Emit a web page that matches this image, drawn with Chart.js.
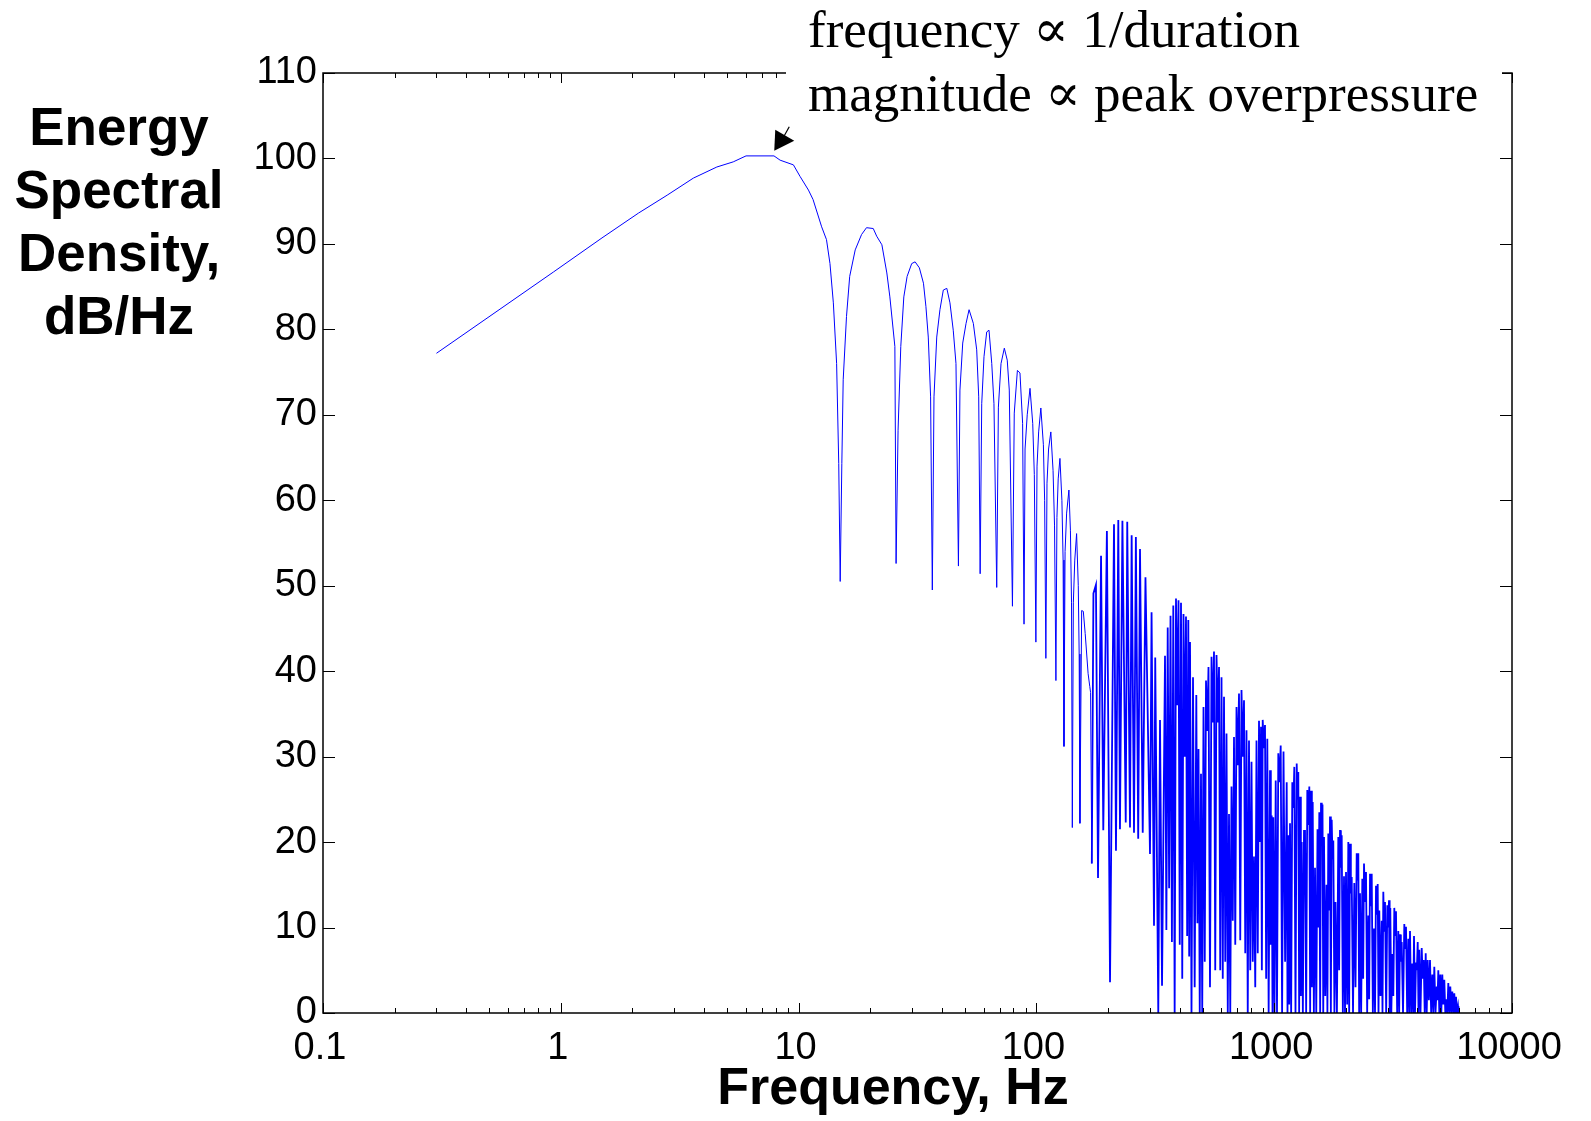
<!DOCTYPE html>
<html>
<head>
<meta charset="utf-8">
<script src="https://cdn.jsdelivr.net/npm/chart.js@4.4.1/dist/chart.umd.min.js"></script>
<style>
html,body{margin:0;padding:0;background:#fff;}
canvas{display:block;}
</style>
</head>
<body>
<canvas id="c" width="1591" height="1121"></canvas>
<script>
// ---------- text & ticks ----------
const xTickValues = [0.1, 1, 10, 100, 1000, 10000];
const xTickLabels = ['0.1', '1', '10', '100', '1000', '10000'];
const yTickValues = [0, 10, 20, 30, 40, 50, 60, 70, 80, 90, 100, 110];
const yTitleLines = ['Energy', 'Spectral', 'Density,', 'dB/Hz'];
const xTitle = 'Frequency, Hz';
const noteLines = ['frequency \u221d 1/duration', 'magnitude \u221d peak overpressure'];
const notePeak = { x: 7.9, y: 100.9 };

// ---------- data (frequency Hz, level dB/Hz) ----------
// main lobe
const mainF  = [0.3, 0.93, 1.49, 2.12, 2.8, 3.61, 4.53, 5.31, 6.01, 7.88, 8.36, 9.51, 10.14, 11.0, 11.5, 12.5, 13.1, 13.55, 14.0, 14.45, 14.75, 14.96];
const mainDb = [77.2, 86.7, 90.7, 93.6, 95.7, 97.7, 99.0, 99.6, 100.3, 100.3, 99.8, 99.25, 97.9, 96.3, 95.2, 92.0, 90.5, 87.7, 83.1, 76.0, 64.3, 50.5];

// side lobes 2-8
const lowLobes = [
  [15.2,64.3],[15.4,74.1],[15.9,81.5],[16.4,86.2],[17.3,89.3],[18.4,91.1],[19.3,91.9],[20.6,91.8],[21.3,90.9],[22.4,89.9],[23.5,86.6],[24.2,83.8],[25.4,78.0],[25.7,52.6],
  [26.2,68.2],[26.9,78.0],[27.7,83.8],[28.6,86.2],[29.9,87.7],[30.9,87.9],[32.2,87.2],[33.5,85.4],[34.3,82.7],[35.1,79.1],[35.9,72.1],[36.5,49.5],
  [37.1,72.1],[38.1,79.1],[39.3,82.3],[40.6,84.6],[42.0,84.8],[43.3,83.1],[44.7,79.9],[45.9,76.0],[47.0,52.3],
  [47.7,72.9],[49.0,78.4],[50.6,80.7],[52.1,82.3],[54.3,80.7],[56.1,77.6],[57.2,72.1],[58.0,51.4],
  [58.9,71.3],[60.2,76.8],[61.8,79.7],[63.2,79.9],[64.9,76.0],[66.3,71.3],[68.1,49.8],
  [69.2,70.9],[71.0,76.0],[73.3,77.8],[75.4,76.4],[76.9,72.9],[79.3,47.6],
  [80.7,70.2],[83.2,75.2],[85.3,74.9],[87.5,69.0],[88.7,45.5]
];

// side lobes 9-14 and shoulder
const midLobes = [
  [89.6,66.0],[91.5,70.0],[94.0,73.1],[96.5,69.0],[98.0,63.0],[99.5,43.4],
  [100.6,64.0],[102.2,68.0],[104.4,70.8],[107.0,66.5],[108.3,60.0],[109.6,41.5],
  [110.8,62.0],[112.5,66.0],[115.0,68.0],[117.5,63.5],[119.2,57.0],[120.8,38.9],
  [122.0,58.0],[123.5,62.5],[125.6,64.9],[128.0,60.0],[129.5,53.0],[130.6,31.2],
  [132.0,54.0],[134.0,58.5],[137.0,61.2],[139.0,56.5],[140.5,48.0],[141.6,21.7],
  [143.0,48.0],[145.0,53.0],[147.6,56.1],[150.0,50.0],[151.3,42.0],[152.4,22.2],
  [155.0,47.1],[157.5,47.0],[160.4,44.4],[165.0,39.7],[167.7,38.2],[169.0,37.5],[171.0,17.5]
];

// dense band 170-340 Hz
const bandA = [
  [173.7,49.1],[178.0,50.1],[181.6,15.8],[187.0,53.5],[191.1,21.4],[197.9,56.4],[204.0,3.6],
  [212.0,57.2],[216.1,19.0],[221.0,57.7],[224.6,21.5],[230.0,57.6],[237.5,22.3],[241.0,57.5],
  [247.5,21.7],[251.5,55.9],[257.3,21.1],[262.0,55.7],[268.0,20.4],[272.7,54.3],[280.0,21.1],
  [287.5,51.0],[300.4,18.6],[305.0,46.9],[312.3,10.2],[316.0,41.6],[325.5,0],[331.0,34.3],[337.5,3.2]
];

// dense band 340-1000 Hz
const bandB = [
  [347.4,41.8],[352,9.7],[356.6,45.1],[361.5,14.6],[366.4,46.5],[371.4,8.3],[376.4,47.7],[381.4,0],
  [386.4,48.5],[391,36],[395.9,48.3],[400.7,8],[405.6,48.0],[410.5,4],[415.5,46.7],[420.6,30],
  [425.7,46.4],[430.5,9],[435.3,46.0],[439,6.6],[442.6,43.4],[449,0],[455.6,39.3],[463,3],
  [470.4,37.2],[475.4,10.5],[480.5,30.9],[486.3,0],[492.2,28.0],[498.2,0],[504.3,35.8],[510.5,6],
  [516.7,38.9],[523,33],[529.3,40.5],[537,3],[545.0,41.7],[551.6,34],[558.3,42.3],[565,5],
  [572.0,41.9],[579,34],[586.1,40.5],[593,5],[600.4,39.3],[607.7,4],[615.1,37.0],[622.6,6],
  [630.2,32.7],[637.9,0],[645.6,23.3],[653.5,0],[661.4,26.5],[669.5,10.8],[677.6,32.3],[685.9,8],
  [694.2,35.8],[702.7,29],[711.2,37.4],[719.9,8.5],[728.6,37.8],[737.5,30],[746.5,36.6],[755.6,7],
  [764.7,33.1],[774.1,0],[783.5,31.9],[793.1,5],[802.7,29.4],[812.5,6],[822.3,18.3],[832.4,3],
  [842.5,31.9],[852.8,7],[863.2,34.2],[871.6,20],[880.1,33.5],[887.4,5],[894.7,34.3],[904.7,31],
  [914.8,33.7],[925,4],[935.4,32.1],[947.7,0],[960.2,28.4],[968,8],[976.1,23.1],[983.7,0],
  [991.4,22.9],[1003,0]
];

// dense band 1-2.3 kHz
const bandC = [
  [1014.7,27.2],[1027.5,0],[1040.5,30.4],[1052.7,27],[1065.0,31.3],[1079.5,0],[1094.3,30.6],[1111.4,6],
  [1128.7,27.0],[1137.5,0],[1146.4,20.8],[1155.9,1],[1165.4,22.2],[1178.4,0],[1191.6,27.0],[1203.2,24],
  [1214.9,28.8],[1229.1,0],[1243.5,29.2],[1253.2,25],[1262.9,28.2],[1273.4,0],[1283.9,25.3],[1294.5,2],
  [1305.2,20.0],[1319.8,0],[1334.6,21.4],[1341,15],[1347.6,21.4],[1362.7,0],[1377.9,26.1],[1391.3,22],
  [1404.9,26.5],[1416.5,0],[1428.2,26.0],[1440,3],[1451.9,24.7],[1468.2,0],[1484.6,17.0],[1502.7,0],
  [1521.0,21.5],[1534.3,10],[1547.7,23.5],[1560.5,0],[1573.4,24.6],[1584.9,21],[1596.4,24.4],[1608,0],
  [1619.7,20.6],[1639.5,2],[1659.4,15.0],[1674,0],[1688.6,21.0],[1702.6,12],[1716.6,23.0],[1730.8,0],
  [1745.1,22.6],[1758.7,18],[1772.3,20.2],[1791.4,0],[1810.5,13.0],[1835.4,0],[1860.3,20.6],[1875.7,5],
  [1891.2,21.4],[1906.9,17],[1922.6,20.8],[1944.2,0],[1965.9,16.0],[1985.1,0],[2004.3,16.5],[2026.9,1],
  [2049.5,20.0],[2066.5,0],[2083.5,19.8],[2100.8,14],[2118.1,15.9],[2145,0],[2172.0,15.2],[2197.5,3],
  [2223.1,18.7],[2240.4,15.5],[2257.8,18.7],[2276.5,0]
];

// dense band 2.3-6 kHz
const bandD = [
  [2295.3,14.0],[2321,0],[2347.0,15.7],[2366.4,4],[2385.9,17.5],[2409.2,13],[2432.6,16.5],[2460,0],
  [2487.4,11.4],[2508,1.6],[2528.7,16.3],[2549.7,12.5],[2570.7,16.3],[2599.6,0],[2628.5,9.9],[2654.2,0],
  [2679.9,14.9],[2702,11.5],[2724.4,15.1],[2745.6,0],[2766.9,12.0],[2799.4,2],[2832.0,10.8],[2854,0],
  [2876.3,14.2],[2900,9.5],[2924.0,13.0],[2957,0],[2989.8,12.6],[3014.6,10],[3039.4,13.2],[3058.6,0],
  [3077.9,12.3],[3108,0],[3138.1,6.9],[3168.7,2],[3199.4,12.3],[3226,9],[3252.6,11.9],[3289,0],
  [3325.9,9.6],[3353.5,0],[3381.1,9.2],[3409,6],[3437.2,8.3],[3481,0],[3524.8,10.4],[3554,7.5],
  [3583.3,10.1],[3623.6,0],[3664.0,8.7],[3694.4,0],[3724.8,9.6],[3766.7,0],[3808.7,5.8],[3840,0],
  [3871.8,9.0],[3909.7,0],[3947.6,5.9],[3980.4,5],[4013.2,8.3],[4044.4,0],[4075.7,7.4],[4123.6,0],
  [4171.6,7.6],[4212.4,4],[4253.2,6.2],[4294.8,0],[4336.4,7.0],[4378.8,0],[4421.2,6.2],[4471,1.5],
  [4520.7,6.2],[4571.6,0],[4622.5,4.5],[4667.6,0],[4712.8,5.4],[4768.3,0],[4823.8,3.1],[4861.4,1.5],
  [4899.1,5.0],[4947,0],[4994.9,4.5],[5043.7,0],[5092.6,4.5],[5142.3,1],[5192.0,3.9],[5242.8,0],
  [5293.6,1.6],[5345.3,0],[5397.1,3.5],[5449.8,0],[5502.6,3.1],[5556.4,0],[5610.3,2.5],[5665,0],
  [5719.8,2.3],[5767.3,0],[5814.9,1.9],[5871.7,0],[5928.5,0.8],[5960,0]
];

// ---------- build series ----------
const toPt = p => ({ x: p[0], y: p[1] });
const smoothPoints = mainF.map((f, i) => ({ x: f, y: mainDb[i] }))
  .concat(lowLobes.map(toPt), midLobes.map(toPt));
const densePoints = [midLobes[midLobes.length - 1]]
  .concat(bandA, bandB, bandC, bandD).map(toPt);

const SANS = '"Liberation Sans", Arial, Helvetica, sans-serif';
const SERIF = '"Liberation Serif", "Times New Roman", "DejaVu Serif", serif';

const decorPlugin = {
  id: 'decor',
  afterDraw(chart) {
    const ctx = chart.ctx;
    const a = chart.chartArea;
    const xs = chart.scales.x, ys = chart.scales.y;
    ctx.save();
    ctx.strokeStyle = '#000';
    ctx.lineWidth = 1.5;
    ctx.strokeRect(a.left, a.top, a.right - a.left, a.bottom - a.top);
    ctx.lineWidth = 1;
    ctx.beginPath();
    yTickValues.forEach(v => {
      const y = Math.round(ys.getPixelForValue(v)) + 0.5;
      ctx.moveTo(a.left, y); ctx.lineTo(a.left + 12, y);
      ctx.moveTo(a.right, y); ctx.lineTo(a.right - 12, y);
    });
    for (let d = 0; d < xTickValues.length; d++) {
      const base = xTickValues[d];
      const xm = Math.round(xs.getPixelForValue(base)) + 0.5;
      ctx.moveTo(xm, a.bottom); ctx.lineTo(xm, a.bottom - 10);
      ctx.moveTo(xm, a.top); ctx.lineTo(xm, a.top + 10);
      if (d < xTickValues.length - 1) {
        for (let m = 2; m <= 9; m++) {
          const x = Math.round(xs.getPixelForValue(base * m)) + 0.5;
          ctx.moveTo(x, a.bottom); ctx.lineTo(x, a.bottom - 5);
          ctx.moveTo(x, a.top); ctx.lineTo(x, a.top + 5);
        }
      }
    }
    ctx.stroke();

    // annotation
    ctx.fillStyle = '#fff';
    ctx.fillRect(786, 0, 716, 124);
    ctx.fillStyle = '#000';
    ctx.font = '53px ' + SERIF;
    ctx.textAlign = 'left';
    ctx.textBaseline = 'alphabetic';
    ctx.fillText(noteLines[0], 808, 47);
    ctx.fillText(noteLines[1], 808, 111);

    const tx = xs.getPixelForValue(notePeak.x), ty = ys.getPixelForValue(notePeak.y);
    ctx.beginPath();
    ctx.moveTo(tx, ty);
    ctx.lineTo(tx + 1, ty - 21);
    ctx.lineTo(tx + 20, ty - 10);
    ctx.closePath();
    ctx.fill();
    ctx.lineWidth = 1.2;
    ctx.beginPath();
    ctx.moveTo(tx + 10, ty - 15);
    ctx.lineTo(tx + 15, ty - 24);
    ctx.stroke();

    // titles
    ctx.font = 'bold 53px ' + SANS;
    ctx.textAlign = 'center';
    const yb = [145, 208, 271, 334];
    yTitleLines.forEach((t, i) => ctx.fillText(t, 119, yb[i]));
    ctx.font = 'bold 52px ' + SANS;
    ctx.fillText(xTitle, 893, 1104);
    ctx.restore();
  }
};

new Chart(document.getElementById('c').getContext('2d'), {
  type: 'scatter',
  data: {
    datasets: [{
      data: smoothPoints,
      showLine: true,
      borderColor: '#0000ff',
      borderWidth: 1,
      pointRadius: 0,
      pointHoverRadius: 0,
      tension: 0,
      fill: false
    }, {
      data: densePoints,
      showLine: true,
      borderColor: '#0000ff',
      borderWidth: 1.8,
      pointRadius: 0,
      pointHoverRadius: 0,
      tension: 0,
      fill: false
    }]
  },
  options: {
    responsive: false,
    animation: false,
    devicePixelRatio: 1,
    events: [],
    layout: { padding: { left: 0, right: 79, top: 73, bottom: 0 } },
    plugins: { legend: { display: false }, tooltip: { enabled: false }, title: { display: false } },
    scales: {
      x: {
        type: 'logarithmic',
        min: 0.1, max: 10000,
        position: 'bottom',
        grid: { display: false, drawTicks: false },
        border: { display: false },
        afterBuildTicks: (s) => { s.ticks = xTickValues.map(v => ({ value: v })); },
        ticks: {
          autoSkip: false, maxRotation: 0, minRotation: 0,
          callback: (v, i) => xTickLabels[i],
          font: { family: SANS, size: 38 },
          color: '#000',
          padding: 13,
          labelOffset: -3
        },
        afterFit: (s) => { s.height = 108; }
      },
      y: {
        type: 'linear',
        min: 0, max: 110,
        grid: { display: false, drawTicks: false },
        border: { display: false },
        afterBuildTicks: (s) => { s.ticks = yTickValues.map(v => ({ value: v })); },
        ticks: {
          callback: (v) => String(v),
          font: { family: SANS, size: 38 },
          color: '#000',
          padding: 6
        },
        afterFit: (s) => { s.width = 323; }
      }
    }
  },
  plugins: [decorPlugin]
});
</script>
</body>
</html>
